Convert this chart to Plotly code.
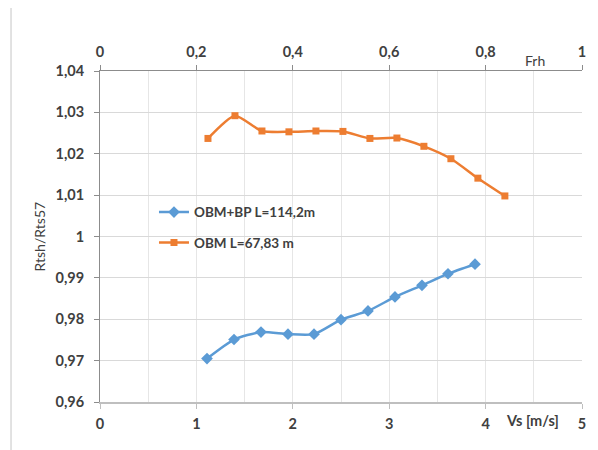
import plotly.graph_objects as go

# ---- data ----
vs_bp = [1.11, 1.39, 1.67, 1.95, 2.22, 2.50, 2.78, 3.06, 3.34, 3.61, 3.89]
r_bp = [0.9705, 0.9751, 0.9769, 0.9764, 0.9764, 0.9799, 0.9820, 0.9854, 0.9882, 0.9910, 0.9933]

vs_obm = [1.12, 1.40, 1.68, 1.96, 2.24, 2.52, 2.80, 3.08, 3.36, 3.64, 3.92, 4.20]
r_obm = [1.0237, 1.0292, 1.0255, 1.0253, 1.0255, 1.0254, 1.0237, 1.0238, 1.0218, 1.0188, 1.0141, 1.0098]

name_bp = "OBM+BP L=114,2m"
name_obm = "OBM L=67,83 m"

y_ticks = [0.96, 0.97, 0.98, 0.99, 1.00, 1.01, 1.02, 1.03, 1.04]
y_labels = ["0,96", "0,97", "0,98", "0,99", "1", "1,01", "1,02", "1,03", "1,04"]
x_ticks = [0, 1, 2, 3, 4, 5]
x_labels = ["0", "1", "2", "3", "4", "5"]
frh_ticks = [0, 0.2, 0.4, 0.6, 0.8, 1.0]
frh_labels = ["0", "0,2", "0,4", "0,6", "0,8", "1"]

FONT = "Lato"
TXT = "#404040"
TICKFONT = dict(family=FONT, size=14.5, color=TXT, weight="bold")

fig = go.Figure()
fig.add_trace(go.Scatter(
    x=vs_bp, y=r_bp, name=name_bp, mode="lines+markers",
    line=dict(color="#5B9BD5", width=2.5, shape="spline", smoothing=0.6),
    marker=dict(symbol="diamond", size=9, color="#5B9BD5"),
    legendgroup="a",
))
fig.add_trace(go.Scatter(
    x=vs_obm, y=r_obm, name=name_obm, mode="lines+markers",
    line=dict(color="#ED7D31", width=2.5, shape="spline", smoothing=0.6),
    marker=dict(symbol="square", size=7, color="#ED7D31"),
    legendgroup="b",
))
# invisible trace to activate top axis
fig.add_trace(go.Scatter(x=[0, 1], y=[1, 1], xaxis="x2", mode="markers",
                         marker=dict(opacity=0), showlegend=False, hoverinfo="skip"))

fig.update_layout(
    width=590, height=442,
    margin=dict(l=92, r=16, t=63, b=48),
    paper_bgcolor="white", plot_bgcolor="white",
    font=dict(family=FONT, color=TXT, size=12),
    showlegend=True,
    legend=dict(x=0.112, y=0.62, xanchor="left", yanchor="top",
                bgcolor="rgba(0,0,0,0)", traceorder="grouped", tracegroupgap=10,
                font=dict(family=FONT, size=13.5, color=TXT, weight="bold")),
    xaxis=dict(range=[0, 5], tickvals=x_ticks, ticktext=x_labels,
               showgrid=True, gridcolor="#e6e6e6", gridwidth=1,
               minor=dict(dtick=0.5, tick0=0, showgrid=True, gridcolor="#e6e6e6"),
               showline=True, linecolor="#bfbfbf", linewidth=1.5,
               ticks="outside", ticklen=5, tickcolor="#bfbfbf",
               ticklabelstandoff=3,
               tickfont=TICKFONT, zeroline=False),
    xaxis2=dict(range=[0, 1], overlaying="x", side="top", tickvals=frh_ticks, ticktext=frh_labels,
                showgrid=False, showline=True, linecolor="#8c8c8c", linewidth=1,
                ticks="outside", ticklen=5, tickcolor="#8c8c8c",
                ticklabelstandoff=2,
                tickfont=TICKFONT, zeroline=False),
    yaxis=dict(range=[0.96, 1.04], tickvals=y_ticks, ticktext=y_labels,
               showgrid=True, gridcolor="#d9d9d9", gridwidth=1,
               showline=True, linecolor="#8c8c8c", linewidth=1,
               ticks="outside", ticklen=5, tickcolor="#8c8c8c",
               ticklabelstandoff=7,
               tickfont=TICKFONT, zeroline=False),
    shapes=[dict(type="rect", xref="paper", yref="paper",
                 x0=-0.1846, x1=1.2, y0=-0.5, y1=1.196,
                 line=dict(color="#d9d9d9", width=1.5), layer="below")],
    annotations=[
        dict(text="Rtsh/Rts57", xref="paper", yref="paper", x=-0.1245, y=0.5,
             xanchor="center", yanchor="middle",
             textangle=-90, showarrow=False, font=dict(family=FONT, size=14, color=TXT)),
        dict(text="Frh", xref="paper", yref="paper", x=0.902, y=1.0,
             xanchor="center", yanchor="bottom",
             showarrow=False, font=dict(family=FONT, size=14, color=TXT)),
        dict(text="<b>Vs [m/s]</b>", xref="paper", yref="paper", x=0.898, y=-0.0574,
             xanchor="center", yanchor="middle", showarrow=False,
             font=dict(family=FONT, size=14.5, color=TXT)),
    ],
)

fig.write_html("out.html")
